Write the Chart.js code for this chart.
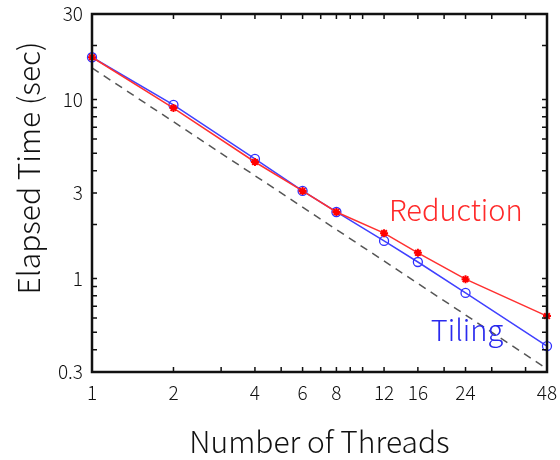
<!DOCTYPE html>
<html><head><meta charset="utf-8">
<script src="https://cdn.jsdelivr.net/npm/chart.js@4/dist/chart.umd.min.js"></script>
<style>html,body{margin:0;padding:0;background:#fff}#wrap{width:560px;height:460px}</style>
</head><body><div id="wrap"><canvas id="c" width="560" height="460"></canvas></div>
<script>
const threads = [1, 2, 4, 6, 8, 12, 16, 24, 48];
const reduction = [17.2, 8.95, 4.47, 3.08, 2.35, 1.79, 1.39, 0.99, 0.616];
const tiling = [17.2, 9.31, 4.65, 3.08, 2.35, 1.62, 1.235, 0.83, 0.419];
const idealX = [1, 48];
const idealY = [15, 0.3125];
const xTickLabels = [1, 2, 4, 6, 8, 12, 16, 24, 48];
const xMinorTicks = [2,3,4,5,6,7,8,9,10,12,16,20,24,30,40];
const yTickLabels = [0.3, 1, 3, 10, 30];
const yMinorTicks = [0.4,0.5,0.6,0.7,0.8,0.9,1,2,3,4,5,6,7,8,9,10,20];
const annotations = [
  {text: 'Reduction', x: 22.1, y: 2.41, color: '#ff2a2a'},
  {text: 'Tiling', x: 24.3, y: 0.515, color: '#2a2aee'}
];
const yTitle = 'Elapsed Time (sec)';
const xTitle = 'Number of Threads';
const FONT = '"Noto Sans CJK JP", "Noto Sans", sans-serif';

const framePlugin = {
  id: 'frame',
  afterDatasetsDraw(chart) {
    const {ctx, chartArea: a, scales: {x, y}} = chart;
    ctx.save();
    ctx.strokeStyle = '#111';
    ctx.lineWidth = 1.5;
    const L = 5;
    ctx.beginPath();
    xMinorTicks.forEach(v => {
      const px = x.getPixelForValue(v);
      ctx.moveTo(px, a.bottom); ctx.lineTo(px, a.bottom - L);
      ctx.moveTo(px, a.top); ctx.lineTo(px, a.top + L);
    });
    yMinorTicks.forEach(v => {
      const py = y.getPixelForValue(v);
      ctx.moveTo(a.left, py); ctx.lineTo(a.left + L, py);
      ctx.moveTo(a.right, py); ctx.lineTo(a.right - L, py);
    });
    ctx.stroke();
    ctx.lineWidth = 2.5;
    ctx.strokeRect(a.left, a.top, a.right - a.left, a.bottom - a.top);
    ctx.font = '300 29px ' + FONT;
    ctx.textAlign = 'center';
    ctx.textBaseline = 'middle';
    annotations.forEach(an => {
      ctx.fillStyle = an.color;
      ctx.fillText(an.text, x.getPixelForValue(an.x), y.getPixelForValue(an.y));
    });
    // y-axis title (placed above the plot centre, as in the original)
    ctx.font = '300 30px ' + FONT;
    ctx.fillStyle = '#111';
    ctx.translate(a.left - 63, a.top + 154);
    ctx.rotate(-Math.PI / 2);
    ctx.fillText(yTitle, 0, 0);
    ctx.restore();
  }
};

new Chart(document.getElementById('c'), {
  type: 'line',
  data: {
    datasets: [
      {
        label: 'Ideal',
        data: idealX.map((v, i) => ({x: v, y: idealY[i]})),
        borderColor: '#555',
        borderWidth: 1.5,
        borderDash: [8, 6],
        pointRadius: 0,
        fill: false,
        clip: false
      },
      {
        label: 'Reduction',
        data: threads.map((v, i) => ({x: v, y: reduction[i]})),
        borderColor: '#ff3030',
        borderWidth: 1.5,
        pointStyle: 'star',
        pointRadius: 4,
        pointBorderColor: '#ff0000',
        pointBorderWidth: 2,
        fill: false,
        clip: false
      },
      {
        label: 'Tiling',
        data: threads.map((v, i) => ({x: v, y: tiling[i]})),
        borderColor: '#4040ff',
        borderWidth: 1.5,
        pointStyle: 'circle',
        pointRadius: 4.5,
        pointBackgroundColor: 'rgba(0,0,0,0)',
        pointBorderColor: '#3030ff',
        pointBorderWidth: 1.3,
        fill: false,
        clip: false
      }
    ]
  },
  options: {
    responsive: false,
    animation: false,
    layout: {padding: {left: 0, right: 13, top: 14, bottom: 0}},
    plugins: {legend: {display: false}, tooltip: {enabled: false}},
    scales: {
      x: {
        type: 'logarithmic',
        min: 1, max: 48,
        border: {display: false},
        grid: {display: false, drawTicks: false},
        afterBuildTicks: s => { s.ticks = xTickLabels.map(v => ({value: v})); },
        afterFit: s => { s.height = 88; s.paddingLeft = 0; s.paddingRight = 0; },
        ticks: {
          autoSkip: false, maxRotation: 0, padding: 9,
          color: '#111', font: {family: FONT, size: 19, weight: 300},
          callback: v => String(v)
        },
        title: {
          display: true, text: xTitle, color: '#111',
          font: {family: FONT, size: 30, weight: 300}, padding: {top: 0, bottom: 0}
        }
      },
      y: {
        type: 'logarithmic',
        min: 0.3, max: 30,
        border: {display: false},
        grid: {display: false, drawTicks: false},
        afterBuildTicks: s => { s.ticks = yTickLabels.map(v => ({value: v})); },
        afterFit: s => { s.width = 92; s.paddingTop = 0; s.paddingBottom = 0; },
        ticks: {
          autoSkip: false, padding: 9,
          color: '#111', font: {family: FONT, size: 19, weight: 300},
          callback: v => String(v)
        },
        title: {display: false}
      }
    }
  },
  plugins: [framePlugin]
});
</script></body></html>
